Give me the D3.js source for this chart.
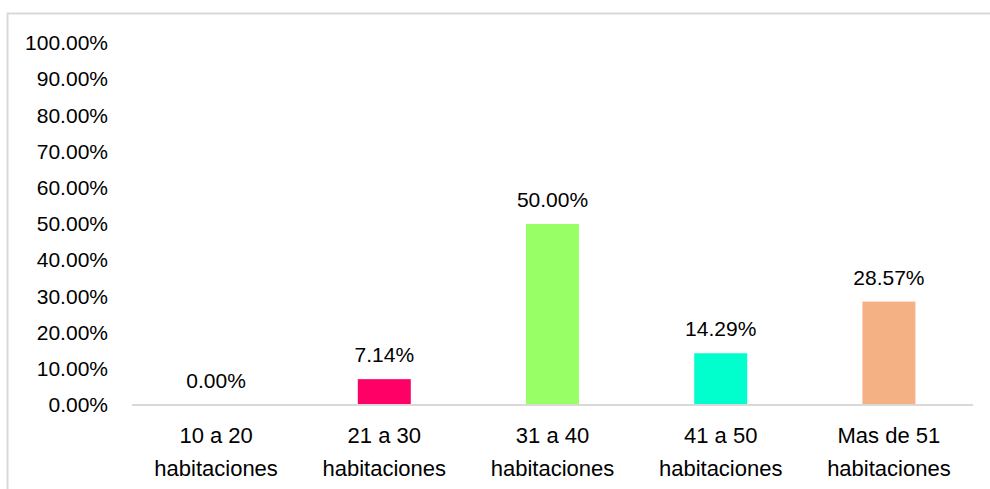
<!DOCTYPE html>
<html>
<head>
<meta charset="utf-8">
<script src="https://cdn.jsdelivr.net/npm/d3@7"></script>
<style>
  html, body { margin: 0; padding: 0; background: #fff; }
  svg { display: block; font-family: "Liberation Sans", Arial, sans-serif; }
</style>
</head>
<body>
<svg id="chart" width="990" height="489"></svg>
<script>
// Room-count categories (two-line labels)
const categories = [
  ["10 a 20", "habitaciones"],
  ["21 a 30", "habitaciones"],
  ["31 a 40", "habitaciones"],
  ["41 a 50", "habitaciones"],
  ["Mas de 51", "habitaciones"]
];
const values = [0.00, 7.14, 50.00, 14.29, 28.57];
const barColors = ["#FFFFFF", "#FF0066", "#99FF66", "#00FFCC", "#F4B183"];
const yTicks = [0, 10, 20, 30, 40, 50, 60, 70, 80, 90, 100];

const svg = d3.select("#chart");

// Outer chart frame
svg.append("rect")
  .attr("x", 7.5).attr("y", 13.5)
  .attr("width", 1000).attr("height", 500)
  .attr("fill", "none")
  .attr("stroke", "#d9d9d9")
  .attr("stroke-width", 2);

const plot = { left: 132, right: 973, top: 43, bottom: 405 };

const x = d3.scaleBand()
  .domain(d3.range(categories.length))
  .range([plot.left, plot.right])
  .paddingInner(0.685)
  .paddingOuter(0.3425);

const y = d3.scaleLinear()
  .domain([0, 100])
  .range([plot.bottom, plot.top]);

// Y axis labels (no axis line, no ticks)
const yAxis = d3.axisLeft(y)
  .tickValues(yTicks)
  .tickSize(0)
  .tickPadding(0)
  .tickFormat(d => d.toFixed(2) + "%");

svg.append("g")
  .attr("transform", "translate(108,0)")
  .call(yAxis)
  .call(g => g.select(".domain").remove())
  .call(g => g.selectAll("text")
    .attr("font-size", 21)
    .attr("font-family", "Liberation Sans, Arial, sans-serif")
    .attr("fill", "#000"));

// Bars
svg.append("g")
  .selectAll("rect")
  .data(values)
  .join("rect")
  .attr("x", (d, i) => x(i))
  .attr("y", d => y(d))
  .attr("width", x.bandwidth())
  .attr("height", d => y(0) - y(d))
  .attr("fill", (d, i) => barColors[i]);

// Baseline
svg.append("line")
  .attr("x1", plot.left).attr("x2", plot.right)
  .attr("y1", plot.bottom).attr("y2", plot.bottom)
  .attr("stroke", "#d9d9d9")
  .attr("stroke-width", 2);

// Value labels above bars
svg.append("g")
  .selectAll("text")
  .data(values)
  .join("text")
  .attr("x", (d, i) => x(i) + x.bandwidth() / 2)
  .attr("y", d => y(d) - 17)
  .attr("text-anchor", "middle")
  .attr("font-size", 21)
  .attr("fill", "#000")
  .text(d => d.toFixed(2) + "%");

// Category labels
const catG = svg.append("g")
  .selectAll("text")
  .data(categories)
  .join("text")
  .attr("text-anchor", "middle")
  .attr("font-size", 22)
  .attr("fill", "#000");

catG.selectAll("tspan")
  .data((d, i) => d.map(line => ({ line, i })))
  .join("tspan")
  .attr("x", d => x(d.i) + x.bandwidth() / 2)
  .attr("y", (d, j) => 443 + j * 33)
  .text(d => d.line);
</script>
</body>
</html>
